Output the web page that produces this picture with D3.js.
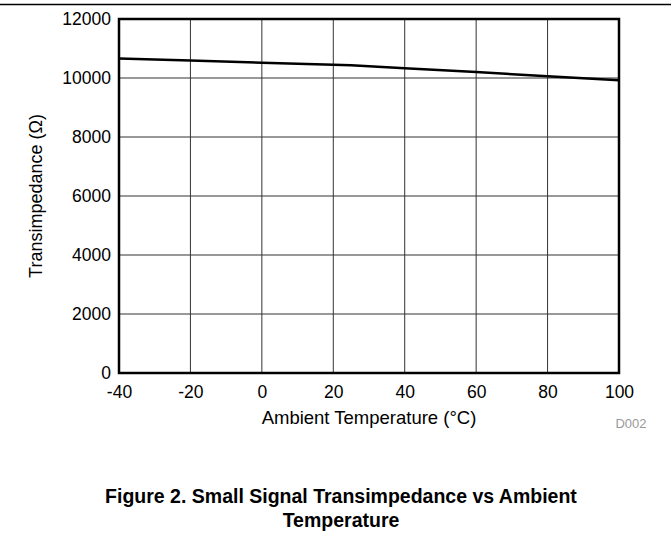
<!DOCTYPE html>
<html>
<head>
<meta charset="utf-8">
<script src="https://cdn.jsdelivr.net/npm/d3@7"></script>
<style>
  body { margin: 0; background: #fff; }
  svg text { font-family: "Liberation Sans", Arial, sans-serif; }
</style>
</head>
<body>
<div id="chart"></div>
<script>
const temps = [-40, -20, 0, 20, 25, 40, 60, 80, 100]
const transimpedance = [10660, 10590, 10520, 10450, 10430, 10330, 10200, 10060, 9920]
const xTicks = [-40, -20, 0, 20, 40, 60, 80, 100]
const yTicks = [0, 2000, 4000, 6000, 8000, 10000, 12000]

const width = 671, height = 535
const margin = {top: 19, right: 52, bottom: 162, left: 119}
const w = width - margin.left - margin.right,
  h = height - margin.top - margin.bottom

const svg = d3.select('#chart').append('svg')
  .attr('width', width)
  .attr('height', height)

// rule across the top of the page
svg.append('line')
  .attr('x1', 0).attr('x2', width)
  .attr('y1', 4.5).attr('y2', 4.5)
  .attr('stroke', '#000').attr('stroke-width', 1.5)

const g = svg.append('g')
  .attr('transform', `translate(${margin.left}, ${margin.top})`)

const x = d3.scaleLinear().domain([-40, 100]).range([0, w])
const y = d3.scaleLinear().domain([0, 12000]).range([h, 0])

// grid
g.append('g')
  .selectAll('line')
  .data(xTicks)
  .enter().append('line')
  .attr('x1', d => x(d)).attr('x2', d => x(d))
  .attr('y1', 0).attr('y2', h)
  .attr('stroke', '#333').attr('stroke-width', 1)
g.append('g')
  .selectAll('line')
  .data(yTicks)
  .enter().append('line')
  .attr('x1', 0).attr('x2', w)
  .attr('y1', d => y(d)).attr('y2', d => y(d))
  .attr('stroke', '#333').attr('stroke-width', 1)

// axes, ticks only as labels (plain hyphen for negatives, like the original)
const xAxis = g.append('g')
  .attr('transform', `translate(0, ${h})`)
  .call(d3.axisBottom(x).tickValues(xTicks).tickSize(0).tickPadding(9).tickFormat(d => String(d)))
const yAxis = g.append('g')
  .call(d3.axisLeft(y).tickValues(yTicks).tickSize(0).tickPadding(8).tickFormat(d => String(d)))
;[xAxis, yAxis].forEach(a => {
  a.select('.domain').remove()
  a.selectAll('text')
    .attr('fill', '#000')
    .style('font-size', '17.5px')
    .style('font-family', '"Liberation Sans", Arial, sans-serif')
})
xAxis.selectAll('text').attr('dy', '0.9em')

// line
const line = d3.line()
  .x((d, i) => x(temps[i]))
  .y(d => y(d))
g.append('path')
  .datum(transimpedance)
  .attr('d', line)
  .attr('fill', 'none')
  .attr('stroke', '#000')
  .attr('stroke-width', 2.5)

// frame
g.append('rect')
  .attr('x', 0).attr('y', 0)
  .attr('width', w).attr('height', h)
  .attr('fill', 'none')
  .attr('stroke', '#000')
  .attr('stroke-width', 2.5)

// axis labels
g.append('text')
  .attr('x', w / 2)
  .attr('y', h + 51)
  .attr('text-anchor', 'middle')
  .style('font-size', '18.5px')
  .text('Ambient Temperature (°C)')
g.append('text')
  .attr('transform', `translate(${-77}, ${h / 2}) rotate(-90)`)
  .attr('text-anchor', 'middle')
  .style('font-size', '18px')
  .text('Transimpedance (Ω)')

svg.append('text')
  .attr('x', 631)
  .attr('y', 428)
  .attr('text-anchor', 'middle')
  .attr('fill', '#999')
  .style('font-size', '13px')
  .text('D002')

// caption
const caption = svg.append('text')
  .attr('text-anchor', 'middle')
  .style('font-size', '19.5px')
  .style('font-weight', 'bold')
caption.append('tspan').attr('x', 341).attr('y', 503)
  .text('Figure 2. Small Signal Transimpedance vs Ambient')
caption.append('tspan').attr('x', 341).attr('y', 527)
  .text('Temperature')
</script>
</body>
</html>
